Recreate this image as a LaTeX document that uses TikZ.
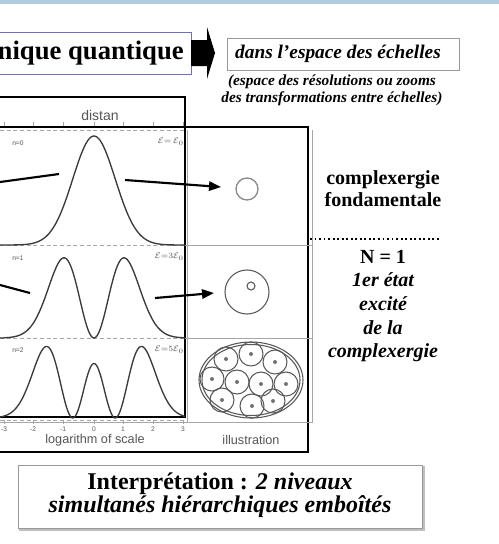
\documentclass[tikz,border=0pt]{standalone}
\usepackage{fontspec}
\setmainfont{Liberation Serif}
\newfontfamily\arialf{Liberation Sans}
\usetikzlibrary{arrows.meta}
\definecolor{bandblue}{HTML}{B3CDE0}
\definecolor{titleframe}{HTML}{6F6FC0}
\definecolor{labelgray}{HTML}{555555}
\definecolor{curvegray}{HTML}{3A3A3A}
\definecolor{circgray}{HTML}{8A8A8A}
\begin{document}
\begin{tikzpicture}[x=0.75pt,y=-0.75pt,
  heavy/.style={line width=2pt,black},
  frameline/.style={line width=0.6pt,gray!70},
  dashframe/.style={line width=0.6pt,gray!70,densely dashed},
  curve/.style={line width=1pt,curvegray},
  pointer/.style={line width=1.6pt,black,-{Triangle[length=9pt,width=7pt]}},
  stub/.style={line width=1.6pt,black},
  sanslabel/.style={font=\arialf\fontsize{9.5}{11}\selectfont,text=labelgray,inner sep=0pt},
  tinylabel/.style={font=\arialf\fontsize{5}{6}\selectfont,text=labelgray,inner sep=0pt},
  bigtext/.style={font=\bfseries\fontsize{15}{17}\selectfont,align=center,inner sep=0pt},
  circ/.style={line width=1pt,circgray},
  ring/.style={line width=0.8pt,black!65}]
\useasboundingbox (0,0) rectangle (499,544);
\fill[white] (0,0) rectangle (499,544);
\fill[bandblue] (0,0) rectangle (499,3.5);

% title
\draw[titleframe,line width=0.7pt] (-5,32) rectangle (191,74);
\node[font=\bfseries\fontsize{20}{24}\selectfont,anchor=east,inner sep=0pt] (title) at (184,53) {nique quantique};
\fill[black] (191,40) -- (207,40) -- (207,27) -- (215,53) -- (207,79) -- (207,66) -- (191,66) -- cycle;

% space of scales
\draw[gray!80,line width=0.7pt] (227,38) rectangle (459,70);
\node[font=\bfseries\itshape\fontsize{14.5}{17}\selectfont,inner sep=0pt] (espace) at (338,54) {dans l'espace des échelles};
\node[font=\bfseries\itshape\fontsize{11.5}{12}\selectfont,align=center,inner sep=0pt] (sub) at (332,90)
  {(espace des résolutions ou zooms\\[1pt]des transformations entre échelles)};

% graph box and outer box
\draw[heavy] (-5,97) -- (185,97) -- (185,417) -- (-5,417);
\draw[heavy] (-5,127) -- (308,127) -- (308,452) -- (-5,452);
\node[sanslabel,font=\arialf\fontsize{10.5}{12}\selectfont] (distan) at (100,115) {distan};

% plot frame
\foreach \yy in {130,245,338,420} \draw[dashframe] (0,\yy) -- (185,\yy);
\foreach \xx in {4,33,63,94,123,153,183} {
  \draw[frameline] (\xx,122) -- (\xx,126);
  \draw[frameline] (\xx,420) -- (\xx,424);
}
\foreach \xx/\lab in {4/-3,33/-2,63/-1,94/0,123/1,153/2,183/3}
  \node[tinylabel] (t\lab) at (\xx,429) {\lab};
\node[sanslabel] (logscale) at (95,440) {logarithm of scale};

% illustration column
\draw[frameline] (187,130) -- (187,423);
\draw[frameline] (185,245) -- (313,245);
\draw[frameline] (185,338) -- (313,338);
\draw[frameline] (0,422) -- (313,422);
\draw[frameline] (312,130) -- (312,422);
\node[sanslabel] (illus) at (251,440) {illustration};

% curves
\draw[curve] plot[domain=-3.13:3.03,samples=121,smooth] ({94+30*\x},{245-109*exp(-(\x)*(\x))});
\draw[curve] plot[domain=-3.13:3.03,samples=121,smooth] ({94+30*\x},{338-218*(\x)*(\x)*exp(-(\x)*(\x))});
\draw[curve] plot[domain=-3.13:3.03,samples=161,smooth] ({94+30*\x},{418-54.5*((2*(\x)*(\x)-1)*exp(-0.5*(\x)*(\x)))*((2*(\x)*(\x)-1)*exp(-0.5*(\x)*(\x)))});

% panel labels
\node[tinylabel,anchor=west] (n0) at (12,143) {n=0};
\node[tinylabel,anchor=west] (n1) at (12,258) {n=1};
\node[tinylabel,anchor=west] (n2) at (12,350) {n=2};
\node[tinylabel,font=\fontsize{6}{7}\selectfont,anchor=east] (e0) at (184,142) {$\mathcal{E}{=}\,\mathcal{E}_0$};
\node[tinylabel,font=\fontsize{6}{7}\selectfont,anchor=east] (e1) at (184,257) {$\mathcal{E}{=}3\mathcal{E}_0$};
\node[tinylabel,font=\fontsize{6}{7}\selectfont,anchor=east] (e2) at (184,350) {$\mathcal{E}{=}5\mathcal{E}_0$};

% arrows
\coordinate (a1s) at (0,182);
\coordinate (a1e) at (59,174);
\coordinate (b1s) at (125,180);
\coordinate (b1e) at (221,187);
\coordinate (a2s) at (0,285);
\coordinate (a2e) at (30,293);
\coordinate (b2s) at (155,298);
\coordinate (b2e) at (214,293);
\draw[stub] (a1s) -- (a1e);
\draw[pointer] (b1s) -- (b1e);
\draw[stub] (a2s) -- (a2e);
\draw[pointer] (b2s) -- (b2e);

% illustrations
\draw[circ] (247,189) circle[radius=11];
\draw[ring] (247,292) circle[radius=22];
\draw[ring] (251,286) circle[radius=4];
\draw[ring] (251,380) ellipse[x radius=52,y radius=38];
\draw[ring] (251,380) ellipse[x radius=49,y radius=35.5];
\foreach \cx/\cy in {226/359,251/354,275/362,212/379,237/382,261/384,286/384,222/400,252/406,273/401} {
  \draw[ring] (\cx,\cy) circle[radius=12];
  \fill[black!55] (\cx,\cy) circle[radius=2];
}

% right text
\draw[black,line width=1.4pt,dotted] (310,239) -- (440,239);
\node[bigtext] (fond) at (383,189) {complexergie\\[-0.5pt]fondamentale};
\node[bigtext,font=\bfseries\itshape\fontsize{15}{17}\selectfont] (excite) at (383,306)
  {\upshape N = 1\\[0.7pt]1er état\\[0.7pt]excité\\[0.7pt]de la\\[0.7pt]complexergie};

% interpretation
\draw[gray!50,line width=2pt] (20,467) rectangle (424,530);
\draw[gray!80,line width=0.7pt,fill=white] (18,465) rectangle (422,528);
\node[font=\bfseries\fontsize{18}{15.5}\selectfont,align=center,inner sep=0pt] (interp) at (220,495)
  {Interprétation : \textit{2 niveaux}\\\textit{simultanés hiérarchiques emboîtés}};
\end{tikzpicture}
\end{document}
